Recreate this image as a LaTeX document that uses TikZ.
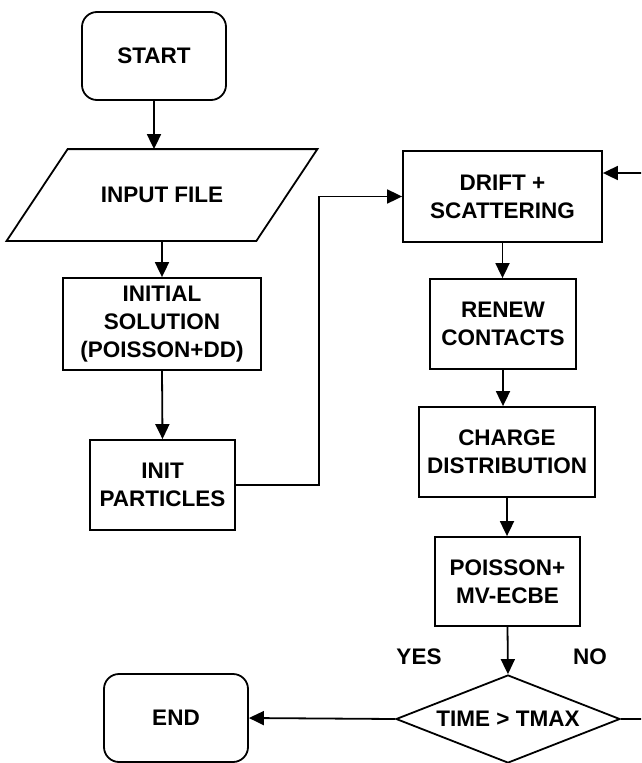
\documentclass[tikz,border=0pt]{standalone}
\usepackage{fontspec}
\setmainfont{Liberation Sans}
\usetikzlibrary{arrows.meta,shapes.geometric}

\begin{document}
\begin{tikzpicture}[
    x=1pt, y=-1pt,
    base/.style={line width=1.8pt, font=\fontsize{22.5}{28}\selectfont\bfseries,
                 align=center, inner sep=0pt},
    box/.style={base, draw, rectangle},
    term/.style={base, draw, rounded corners=15pt, minimum width=144, minimum height=88},
    io/.style={base, minimum width=248, minimum height=90},
    test/.style={base, draw, diamond, aspect=2.5, minimum width=224, minimum height=88},
    arr/.style={line width=1.8pt, -{Triangle[length=15pt,width=14pt]}},
    lbl/.style={font=\fontsize{22.5}{28}\selectfont\bfseries}
]
    \path[use as bounding box, clip] (0,0) rectangle (641,763);

    % left column
    \node[term] (start) at (154,56) {START};
    \node[io] (in) at (162,195) {INPUT FILE};
    \draw[line width=1.8pt] ([xshift=30.5pt]in.north west) -- ([xshift=30.5pt]in.north east)
        -- ([xshift=-30.5pt]in.south east) -- ([xshift=-30.5pt]in.south west) -- cycle;
    \node[box, minimum width=198, minimum height=92] (init) at (162,324) {INITIAL\\SOLUTION\\(POISSON+DD)};
    \node[box, minimum width=145, minimum height=90] (part) at (162.5,485) {INIT\\PARTICLES};

    % right column
    \node[box, minimum width=199, minimum height=91] (drift) at (502.5,196.5) {DRIFT +\\SCATTERING};
    \node[box, minimum width=146, minimum height=90] (renew) at (503,324) {RENEW\\CONTACTS};
    \node[box, minimum width=176, minimum height=90] (charge) at (507,452) {CHARGE\\DISTRIBUTION};
    \node[box, minimum width=145, minimum height=89] (poisson) at (507.5,581.5) {POISSON+\\MV-ECBE};
    \node[test] (dec) at (508,719) {TIME > TMAX};
    \node[term] (end) at (176,718) {END};

    % labels
    \node[lbl] (yes) at (419,657) {YES};
    \node[lbl] (no) at (590,657) {NO};

    % arrows
    \draw[arr] (start.south) -- (start.south |- in.north);
    \draw[arr] (in.south) -- (init.north);
    \draw[arr] (init.south) -- (part.north);
    \coordinate (k1) at (319,485);
    \draw[arr] (part.east) -- (k1) |- (drift.west);
    \draw[arr] (drift.south) -- (drift.south |- renew.north);
    \draw[arr] (renew.south) -- (renew.south |- charge.north);
    \draw[arr] (charge.south) -- (charge.south |- poisson.north);
    \draw[arr] (poisson.south) -- (dec.north);
    \draw[arr] (dec.west) -- (end.east);
    \coordinate (k2) at (660,173);
    \draw[arr] (dec.east) -| (k2) -- (drift.east |- k2);
\end{tikzpicture}
\end{document}
